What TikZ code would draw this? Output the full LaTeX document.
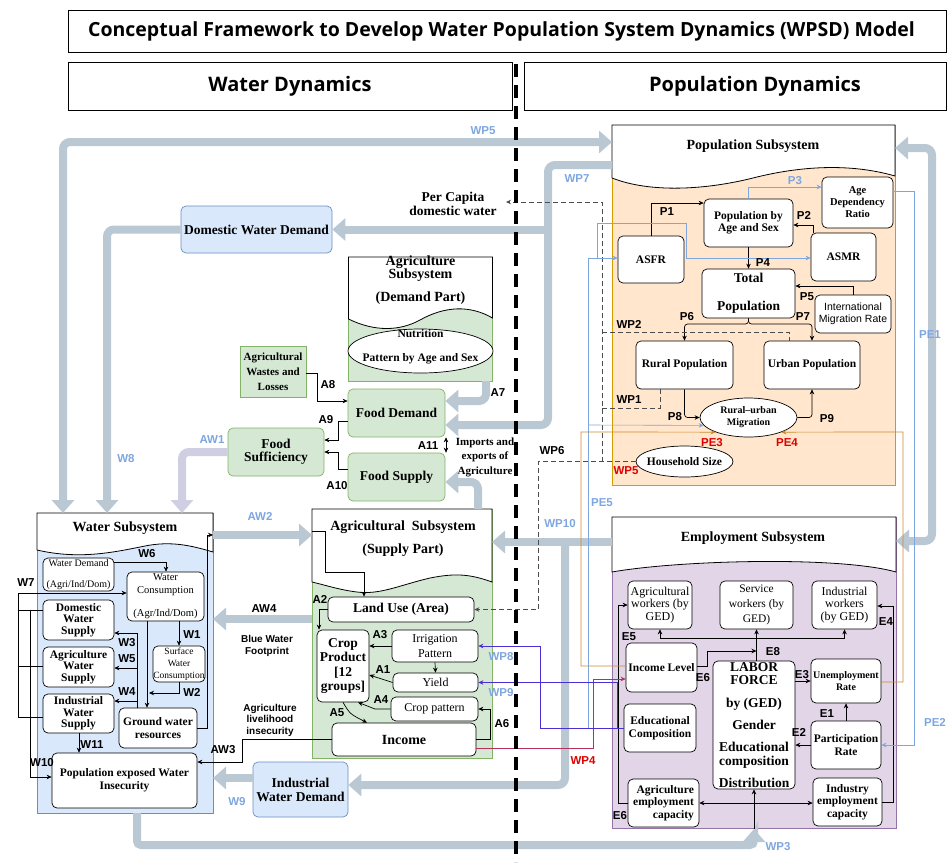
\documentclass[tikz,border=0pt]{standalone}
\usepackage{fontspec}
\setmainfont{Liberation Serif}
\setsansfont{Liberation Sans}
\newfontfamily\headfont{Open Sans}
\usepackage{xcolor}
\usetikzlibrary{arrows.meta, positioning, shapes.geometric}

\definecolor{popfill}{HTML}{FFE6CC}
\definecolor{popdraw}{HTML}{D79B00}
\definecolor{agfill}{HTML}{D5E8D4}
\definecolor{agdraw}{HTML}{82B366}
\definecolor{watfill}{HTML}{DAE8FC}
\definecolor{watdraw}{HTML}{6C8EBF}
\definecolor{empfill}{HTML}{E1D5E7}
\definecolor{empdraw}{HTML}{9673A6}
\definecolor{flowgray}{HTML}{BAC8D3}
\definecolor{flowlav}{HTML}{D0CEE2}
\definecolor{linkblue}{HTML}{7EA6E0}
\definecolor{linkorange}{HTML}{CC8A30}
\definecolor{linkred}{HTML}{E00000}
\definecolor{linkwine}{HTML}{B5305A}
\definecolor{linkviolet}{HTML}{4B2FD6}

\begin{document}
\begin{tikzpicture}[x=1pt, y=-1pt,
        block/.style={rectangle, draw, rounded corners=5pt, fill=white, align=center, inner sep=1pt, line width=0.7pt, font=\bfseries\fontsize{11.5}{12}\selectfont},
        plainblock/.style={block, font=\fontsize{12}{12.5}\selectfont},
        greenblock/.style={block, fill=agfill, draw=agdraw, font=\bfseries\fontsize{13.5}{13.5}\selectfont},
        blueblock/.style={block, fill=watfill, draw=watdraw, font=\bfseries\fontsize{13.5}{14}\selectfont},
        oval/.style={ellipse, draw, fill=white, align=center, inner sep=0pt, line width=0.7pt, font=\bfseries\fontsize{10}{12}\selectfont},
        sysframe/.style={rectangle, inner sep=0pt, outer sep=0pt, line width=0.8pt},
        systitle/.style={align=center, inner sep=0pt, font=\bfseries\fontsize{14}{14}\selectfont},
        header/.style={rectangle, draw, line width=0.6pt, inner sep=0pt, font=\headfont\bfseries\fontsize{20}{22}\selectfont},
        note/.style={align=center, inner sep=0pt, font=\bfseries\fontsize{11}{14.5}\selectfont},
        sidenote/.style={align=center, inner sep=0pt, font=\sffamily\bfseries\fontsize{10}{11.5}\selectfont},
        lbl/.style={inner sep=0pt, font=\sffamily\bfseries\fontsize{11.5}{12}\selectfont},
        bluelbl/.style={lbl, text=linkblue},
        redlbl/.style={lbl, text=linkred},
        arrow/.style={-{Stealth[length=5pt, width=4.5pt]}, line width=0.7pt},
        bothways/.style={{Stealth[length=5pt, width=4.5pt]}-{Stealth[length=5pt, width=4.5pt]}, line width=0.7pt},
        bigarrow/.style={-{Triangle[length=13pt, width=22pt]}, line width=8pt, draw=flowgray, rounded corners=7pt},
        bigboth/.style={bigarrow, {Triangle[length=13pt, width=22pt]}-{Triangle[length=13pt, width=22pt]}},
        dashline/.style={dash pattern=on 5pt off 3pt, line width=0.7pt, draw=black!70},
        blueline/.style={arrow, draw=linkblue, line width=0.6pt},
        orangeline/.style={arrow, draw=linkorange, line width=0.7pt}
    ]
    \useasboundingbox (0,0) rectangle (949,862);

    % headers
    \node[header, minimum width=878pt, minimum height=42pt, font=\headfont\bfseries\fontsize{19.5}{22}\selectfont] (title) at (507,31) {\hspace*{-11pt}Conceptual Framework to Develop Water Population System Dynamics (WPSD) Model};
    \node[header, minimum width=444pt, minimum height=48pt] (waterdyn) at (290,86) {Water Dynamics};
    \node[header, minimum width=422pt, minimum height=48pt] (popdyn) at (735,86) {\hspace*{40pt}Population Dynamics};

    % population subsystem
    \node[sysframe, draw=popdraw, fill=popfill, minimum width=283pt, minimum height=360pt] (popbox) at (753.5,305) {};
    \draw[fill=white, line width=0.8pt] (612,125) -- (895,125) -- (895,176) .. controls (850,163) and (800,166) .. (753,178) .. controls (705,190) and (650,193) .. (612,178) -- cycle;
    \node[systitle] (poptitle) at (753,146) {Population Subsystem};
    \node[block, minimum width=71pt, minimum height=51pt, font=\bfseries\fontsize{10.5}{12}\selectfont] (agedep) at (857.5,202.5) {Age\\Dependency\\Ratio};
    \node[block, minimum width=89pt, minimum height=48pt] (popage) at (748.5,223) {Population by\\Age and Sex};
    \node[block, minimum width=66pt, minimum height=47pt] (asfr) at (651,259.5) {ASFR};
    \node[block, minimum width=65pt, minimum height=48pt] (asmr) at (843.5,257) {ASMR};
    \node[block, minimum width=93pt, minimum height=49pt, font=\bfseries\fontsize{13.5}{14}\selectfont] (totpop) at (748.5,293.5) {Total\\[14pt]Population};
    \node[block, minimum width=76pt, minimum height=38pt, font=\sffamily\fontsize{10.5}{12.5}\selectfont] (intmig) at (853,314) {International\\Migration Rate};
    \node[block, minimum width=97pt, minimum height=48pt] (rurpop) at (684.5,365) {Rural Population};
    \node[block, minimum width=96pt, minimum height=48pt] (urbpop) at (812,365) {Urban Population};
    \node[oval, minimum width=97pt, minimum height=39pt] (rumig) at (748.5,417.5) {Rural--urban\\Migration};
    \node[oval, minimum width=97pt, minimum height=31pt] (hhsize) at (684.5,461.5) {};
    \node[note, font=\bfseries\fontsize{11.5}{12}\selectfont] (hhtext) at (684.5,461.5) {Household Size};

    % agriculture subsystem, demand part
    \node[sysframe, draw=agdraw, fill=agfill, minimum width=144pt, minimum height=124pt] (agdbox) at (420.5,319) {};
    \draw[fill=white, line width=0.8pt] (348.5,257) -- (492.5,257) -- (492.5,318) .. controls (470,305) and (445,306) .. (420,320) .. controls (400,331) and (375,332) .. (348.5,319) -- cycle;
    \node[systitle, font=\bfseries\fontsize{14}{12.5}\selectfont] (agdtitle) at (420.5,280) {Agriculture\\Subsystem\\[9pt](Demand Part)};
    \node[oval, minimum width=145pt, minimum height=44pt] (nutri) at (420.5,351) {};
    \node[note, font=\bfseries\fontsize{11.5}{12}\selectfont] (nutritext) at (420.5,347) {Nutrition\\[12pt]Pattern by Age and Sex};
    \node[greenblock, rounded corners=0pt, minimum width=66pt, minimum height=51pt, font=\bfseries\fontsize{11}{15}\selectfont] (wastes) at (273,371.5) {Agricultural\\Wastes and\\Losses};
    \node[greenblock, minimum width=97pt, minimum height=48pt] (fooddem) at (396.5,413) {Food Demand};
    \node[greenblock, minimum width=96pt, minimum height=48pt] (foodsuf) at (276,452) {Food\\Sufficiency};
    \node[greenblock, minimum width=97pt, minimum height=48pt] (foodsup) at (396.5,477) {Food Supply};
    \node[blueblock, minimum width=151pt, minimum height=47pt] (domdem) at (256.5,229.5) {Domestic Water Demand};
    \node[blueblock, minimum width=95pt, minimum height=55pt] (inddem) at (300.5,789.5) {Industrial\\Water Demand};
    \node[note, font=\bfseries\fontsize{13.5}{14}\selectfont] (percap) at (453,204) {Per Capita\\domestic water};
    \node[note] (imports) at (485,457) {Imports and\\exports of\\Agriculture};
    \node[sidenote] (bluewf) at (267,646) {Blue Water\\Footprint};
    \node[sidenote] (agliv) at (270,720) {Agriculture\\livelihood\\insecurity};

    % agricultural subsystem, supply part
    \node[sysframe, draw=agdraw, fill=agfill, minimum width=180pt, minimum height=249pt] (agsbox) at (402,633.5) {};
    \draw[fill=white, line width=0.8pt] (312,509) -- (492,509) -- (492,582) .. controls (470,574) and (455,573) .. (430,578) .. controls (400,585) and (380,595) .. (357,592) .. controls (340,590) and (325,585) .. (312,582) -- cycle;
    \node[systitle] (agstitle) at (403,538.5) {Agricultural\ \ Subsystem\\[9pt](Supply Part)};
    \node[block, minimum width=146pt, minimum height=25pt, font=\bfseries\fontsize{13.5}{14}\selectfont] (landuse) at (401,609.5) {Land Use (Area)};
    \node[block, minimum width=52pt, minimum height=72pt, font=\bfseries\fontsize{13.5}{14.5}\selectfont] (crop) at (343,666) {Crop\\Product\\{[}12\\groups{]}};
    \node[plainblock, minimum width=86pt, minimum height=32pt, font=\fontsize{12}{15}\selectfont] (irrig) at (435,646) {Irrigation\\Pattern};
    \node[plainblock, minimum width=85pt, minimum height=19pt] (yield) at (435.5,682.5) {Yield};
    \node[plainblock, minimum width=87pt, minimum height=24pt] (croppat) at (434.5,709) {Crop pattern};
    \node[block, minimum width=144pt, minimum height=33pt, font=\bfseries\fontsize{14}{14}\selectfont] (income) at (404,739.5) {Income};

    % water subsystem
    \node[sysframe, draw=watdraw, fill=watfill, minimum width=176pt, minimum height=300pt] (watbox) at (125,663) {};
    \draw[fill=white, line width=0.8pt] (37,513) -- (213,513) -- (213,552) .. controls (190,545) and (170,541) .. (145,546) .. controls (115,552) and (80,560) .. (37,550) -- cycle;
    \node[systitle] (wattitle) at (125,528) {Water Subsystem};
    \node[block, minimum width=71pt, minimum height=33pt, font=\fontsize{10}{10}\selectfont] (watdem) at (78.5,574.5) {Water Demand\\[11pt](Agri/Ind/Dom)};
    \node[block, minimum width=77pt, minimum height=49pt, font=\fontsize{10.5}{13}\selectfont] (watcons) at (165.5,596.5) {Water\\Consumption\\[10pt](Agr/Ind/Dom)};
    \node[block, minimum width=71pt, minimum height=40pt, font=\bfseries\fontsize{11.5}{11.5}\selectfont] (domsup) at (78.5,620) {Domestic\\Water\\Supply};
    \node[block, minimum width=71pt, minimum height=40pt, font=\bfseries\fontsize{11.5}{11.5}\selectfont] (agrsup) at (78.5,667) {Agriculture\\Water\\Supply};
    \node[block, minimum width=71pt, minimum height=39pt, font=\bfseries\fontsize{11.5}{11.5}\selectfont] (indsup) at (78.5,713.5) {Industrial\\Water\\Supply};
    \node[block, minimum width=52pt, minimum height=36pt, inner sep=0pt, font=\fontsize{9.5}{12}\selectfont] (surf) at (179,664) {Surface\\Water\\Consumption};
    \node[block, minimum width=78pt, minimum height=40pt, font=\bfseries\fontsize{11.5}{12.5}\selectfont] (ground) at (158,728) {Ground water\\resources};
    \node[block, minimum width=145pt, minimum height=55pt, font=\bfseries\fontsize{11.5}{13}\selectfont] (popexp) at (124.5,780.5) {Population exposed Water\\Insecurity};

    % employment subsystem
    \node[sysframe, draw=empdraw, fill=empfill, minimum width=284pt, minimum height=311pt] (empbox) at (754,672.5) {};
    \draw[fill=white, line width=0.8pt] (612,517) -- (896,517) -- (896,572) .. controls (840,556) and (680,560) .. (612,572) -- cycle;
    \node[systitle] (emptitle) at (753,538) {Employment Subsystem};
    \node[plainblock, minimum width=64pt, minimum height=48pt, inner sep=0pt, font=\fontsize{12}{12.5}\selectfont] (agwork) at (660,605) {Agricultural\\workers (by\\GED)};
    \node[plainblock, minimum width=73pt, minimum height=48pt, font=\fontsize{11.5}{15}\selectfont] (servwork) at (756.5,605) {Service\\workers (by\\GED)};
    \node[plainblock, minimum width=65pt, minimum height=48pt, inner sep=0pt, font=\fontsize{12}{12.5}\selectfont] (indwork) at (844.5,605) {Industrial\\workers\\(by GED)};
    \node[block, minimum width=71pt, minimum height=49pt] (inclev) at (661.5,667.5) {Income Level};
    \node[block, minimum width=82pt, minimum height=128pt, font=\bfseries\fontsize{13.5}{13.5}\selectfont] (labor) at (754,725) {LABOR\\FORCE\\[9.5pt]by (GED)\\[8.5pt]Gender\\[8.5pt]Educational\\composition\\[8.5pt]Distribution};
    \node[block, minimum width=70pt, minimum height=44pt, font=\bfseries\fontsize{10}{12}\selectfont] (unemp) at (846,681) {Unemployment\\Rate};
    \node[block, minimum width=72pt, minimum height=48pt, font=\bfseries\fontsize{11.5}{12.5}\selectfont] (educ) at (660,728) {Educational\\Composition};
    \node[block, minimum width=70pt, minimum height=48pt, font=\bfseries\fontsize{11.5}{13}\selectfont] (partic) at (846,745) {Participation\\Rate};
    \node[block, minimum width=71pt, minimum height=48pt, align=right, font=\bfseries\fontsize{11.5}{12.5}\selectfont] (agcap) at (663.5,803) {Agriculture\\employment\\capacity};
    \node[block, minimum width=69pt, minimum height=48pt, font=\bfseries\fontsize{11.5}{12.5}\selectfont] (indcap) at (847.5,802) {Industry\\employment\\capacity};

    % junction points
    \coordinate (wp7split) at (548,229.5);
    \coordinate (wp10split) at (565,542);
    \coordinate (wp3tip) at (754,829);
    \coordinate (hhjoin) at (602,461.5);
    \coordinate (pcend) at (506,202);
    \coordinate (wp2start) at (602,332);
    \coordinate (wp1start) at (602,408);
    \coordinate (pe5start) at (588,728);
    \coordinate (pe5mig) at (588,425);
    \coordinate (pe5asmr) at (597,258);
    \coordinate (wp9start) at (617,728);
    \coordinate (e8split) at (756.5,638);
    \coordinate (e6end) at (756.5,651);

    % thick flows
    \draw[bigboth] (watbox.north -| 63,0) |- (popbox.west |- 0,142);
    \draw[bigarrow] (domdem.west) -| (watbox.north -| 107,0);
    \draw[bigarrow] (popbox.west |- 0,165) -| (548,425) -- (fooddem.east |- 0,425);
    \draw[bigarrow] (wp7split) -- (domdem.east);
    \draw[bigarrow] (agdbox.south -| 486,0) |- (fooddem.east |- 0,401);
    \draw[bigarrow, draw=flowlav] (foodsuf.west) -| (watbox.north -| 182,0);
    \draw[bigarrow] (agsbox.north -| 478,0) |- (foodsup.east |- 0,482);
    \draw[bigarrow] (watbox.east |- 0,535) -- (agsbox.west |- 0,535);
    \draw[bigarrow] (agsbox.west |- 0,619) -- (watbox.east |- 0,619);
    \draw[bigarrow] (empbox.west |- 0,542) -- (agsbox.east |- 0,542);
    \draw[bigarrow] (wp10split) |- (inddem.east |- 0,785);
    \draw[bigarrow] (inddem.west |- 0,778) -- (watbox.east |- 0,778);
    \draw[bigarrow, rounded corners=4pt] (watbox.south -| 137,0) |- (754,845) -- (wp3tip);
    \draw[bigboth] (empbox.east |- 0,541) -| (932,148) -- (popbox.east |- 0,148);

    % population links
    \draw[arrow] (asfr.north) |- (popage.west |- 0,203);
    \draw[arrow] (asmr.north -| 813,0) |- (popage.east |- 0,225);
    \draw[blueline] (popage.north) |- (agedep.west |- 0,187);
    \draw[arrow] (popage.south) -- (totpop.north);
    \draw[arrow] (intmig.north) |- (totpop.east |- 0,286);
    \draw[arrow, rounded corners=3pt] (totpop.south) |- (rurpop.north |- 0,324) -- (rurpop.north);
    \draw[arrow, rounded corners=3pt] (totpop.south) |- (urbpop.north |- 0,324) -- (urbpop.north);
    \draw[arrow, rounded corners=3pt] (rurpop.south) |- (rumig.west);
    \draw[arrow, rounded corners=3pt] (rumig.east) -| (urbpop.south);

    % agriculture demand links
    \draw[arrow] (wastes.east |- 0,373) -- (317,373) |- (fooddem.west |- 0,401);
    \draw[arrow] (fooddem.west |- 0,421) -- (338,421) |- (foodsuf.east |- 0,440);
    \draw[arrow] (foodsup.west |- 0,469) -- (338,469) |- (foodsuf.east |- 0,452);
    \draw[bothways] (fooddem.south -| 446,0) -- (foodsup.north -| 446,0);

    % agriculture supply links
    \draw[arrow] (agsbox.west |- 0,531) -| (325,572) -| (landuse.north -| 364,0);
    \draw[arrow] (landuse.west) -| (crop.north -| 319,0);
    \draw[arrow] (irrig.west) -- (crop.east |- irrig.west);
    \draw[arrow] (irrig.south) -- (yield.north);
    \draw[arrow] (yield.west) -- (crop.east |- 0,675);
    \draw[arrow] (croppat.west) -- (375,709) -- (crop.south -| 358,0);
    \draw[arrow] (crop.south) .. controls (350,714) .. (income.north -| 367,0);
    \draw[arrow] (income.east) -| (490,709) -- (croppat.east);
    \draw[arrow] (income.west) -- (242,739.5) |- (popexp.east |- 0,762);

    % water links
    \draw[arrow] (ground.east) -| (207,535) -- (watbox.east |- 0,535);
    \draw[arrow] (watdem.east |- 0,562) -| (watcons.north -| 166,0);
    \draw[arrow] (indsup.west |- 0,717) -| (18,593) -- (watcons.west |- 0,593);
    \draw (domsup.west |- 0,610) -- ++(-25,0);
    \draw (agrsup.west |- 0,666) -- ++(-25,0);
    \draw[arrow] (domsup.west |- 0,610) -| (30,777) -- (popexp.west |- 0,777);
    \draw[arrow] (watcons.south -| 179,0) -- (surf.north -| 179,0);
    \draw[arrow] (surf.south) |- (149,693);
    \draw[arrow] (watcons.south -| 147,0) -- (ground.north -| 147,0);
    \draw[arrow] (ground.north -| 137,0) |- (domsup.east |- 0,633);
    \draw[arrow] (ground.north -| 137,0) |- (agrsup.east |- 0,668);
    \draw[arrow] (ground.north -| 137,0) |- (indsup.east |- 0,701);
    \draw[arrow] (indsup.south -| 79,0) -- (popexp.north -| 79,0);

    % employment links
    \draw[arrow] (labor.north -| servwork.south) -- (servwork.south);
    \draw[arrow] (e8split) -| (agwork.south);
    \draw[arrow] (e8split) -| (indwork.south);
    \draw[arrow] (inclev.east |- 0,666) -- (707,666) |- (e6end);
    \draw[arrow] (labor.east |- unemp.west) -- (unemp.west);
    \draw[arrow] (partic.north) -- (unemp.south);
    \draw[arrow] (partic.west) -- (labor.east |- partic.west);
    \draw[arrow] (agcap.west) -| (618,605) -- (agwork.west);
    \draw[arrow] (indcap.east) -| (893,606) -- (indwork.east |- 0,606);
    \draw[bothways] (agcap.east) -- (indcap.west |- agcap.east);
    \draw[arrow] (wp3tip) -- (labor.south);

    % cross links
    \draw[dashline, arrow] (hhsize.west) -| (538,609.5) -- (landuse.east);
    \draw[dashline, arrow] (hhjoin) |- (pcend);
    \draw[dashline] (wp2start) -| (urbpop.north -| 789,0);
    \draw[dashline] (wp1start) -| (rurpop.south -| 660,0);
    \draw[blueline] (pe5start) |- (asfr.west |- 0,258);
    \draw[blueline] (pe5mig) -- (rumig.190);
    \draw[blueline] (pe5asmr) |- (686,223) |- (asmr.west |- 0,258);
    \draw[blueline] (agedep.east |- 0,191) -| (914,745) -- (partic.east);
    \draw[orangeline] (inclev.west |- 0,666) -| (581,432) -- (rumig.204);
    \draw[orangeline] (unemp.east |- 0,682) -| (903,432) -- (rumig.336);
    \draw[arrow, draw=linkwine] (income.east |- 0,748) -| (593,679) -- (inclev.west |- 0,679);
    \draw[arrow, draw=linkviolet] (educ.west |- 0,728) -- (540,728) |- (irrig.east);
    \draw[arrow, draw=linkviolet] (wp9start) |- (yield.east);

    % divider
    \draw[line width=4pt, dash pattern=on 13pt off 8pt] (516,64) -- (516,862);

    % link labels
    \node[lbl] (lp1) at (667,212) {P1};
    \node[lbl] (lp2) at (804,215) {P2};
    \node[bluelbl] (lp3) at (795,181) {P3};
    \node[lbl] (lp4) at (763,263) {P4};
    \node[lbl] (lp5) at (807,297) {P5};
    \node[lbl] (lp6) at (687,317) {P6};
    \node[lbl] (lp7) at (803,317) {P7};
    \node[lbl] (lp8) at (675,417) {P8};
    \node[lbl] (lp9) at (827,419) {P9};
    \node[lbl] (lwp2) at (629,324) {WP2};
    \node[lbl] (lwp1) at (629,400) {WP1};
    \node[lbl] (lwp6) at (552,451) {WP6};
    \node[redlbl] (lwp5r) at (626,471) {WP5};
    \node[redlbl] (lpe3) at (712,443) {PE3};
    \node[redlbl] (lpe4) at (787,443) {PE4};
    \node[bluelbl] (lpe1) at (930,335) {PE1};
    \node[bluelbl] (lpe2) at (935,722) {PE2};
    \node[bluelbl] (lpe5) at (602,503) {PE5};
    \node[bluelbl] (lwp5) at (483,131) {WP5};
    \node[bluelbl] (lwp7) at (577,179) {WP7};
    \node[bluelbl] (lw8) at (126,459) {W8};
    \node[bluelbl] (law1) at (212,440) {AW1};
    \node[bluelbl] (law2) at (260,516) {AW2};
    \node[bluelbl] (lwp10) at (560,524) {WP10};
    \node[bluelbl] (lwp8) at (501,657) {WP8};
    \node[bluelbl] (lwp9) at (501,693) {WP9};
    \node[bluelbl] (lw9) at (237,802) {W9};
    \node[bluelbl] (lwp3) at (778,847) {WP3};
    \node[redlbl] (lwp4) at (583,761) {WP4};
    \node[lbl] (la7) at (498,393) {A7};
    \node[lbl] (la8) at (328,385) {A8};
    \node[lbl] (la9) at (326,420) {A9};
    \node[lbl] (la10) at (337,486) {A10};
    \node[lbl] (la11) at (428,446) {A11};
    \node[lbl] (la2) at (320,599) {A2};
    \node[lbl] (la3) at (380,635) {A3};
    \node[lbl] (la1) at (383,670) {A1};
    \node[lbl] (la4) at (381,700) {A4};
    \node[lbl] (la5) at (337,713) {A5};
    \node[lbl] (la6) at (502,724) {A6};
    \node[lbl] (law3) at (223,750) {AW3};
    \node[lbl] (law4) at (264,609) {AW4};
    \node[lbl] (lw6) at (147,554) {W6};
    \node[lbl] (lw7) at (26,583) {W7};
    \node[lbl] (lw1) at (192,635) {W1};
    \node[lbl] (lw2) at (192,692) {W2};
    \node[lbl] (lw3) at (127,643) {W3};
    \node[lbl] (lw5) at (127,659) {W5};
    \node[lbl] (lw4) at (127,692) {W4};
    \node[lbl] (lw11) at (92,745) {W11};
    \node[lbl] (lw10) at (42,763) {W10};
    \node[lbl] (le5) at (629,637) {E5};
    \node[lbl] (le8) at (773,652) {E8};
    \node[lbl] (le6a) at (703,678) {E6};
    \node[lbl] (le3) at (802,675) {E3};
    \node[lbl] (le4) at (886,622) {E4};
    \node[lbl] (le1) at (827,714) {E1};
    \node[lbl] (le2) at (799,732) {E2};
    \node[lbl] (le6b) at (620,816) {E6};
\end{tikzpicture}
\end{document}
